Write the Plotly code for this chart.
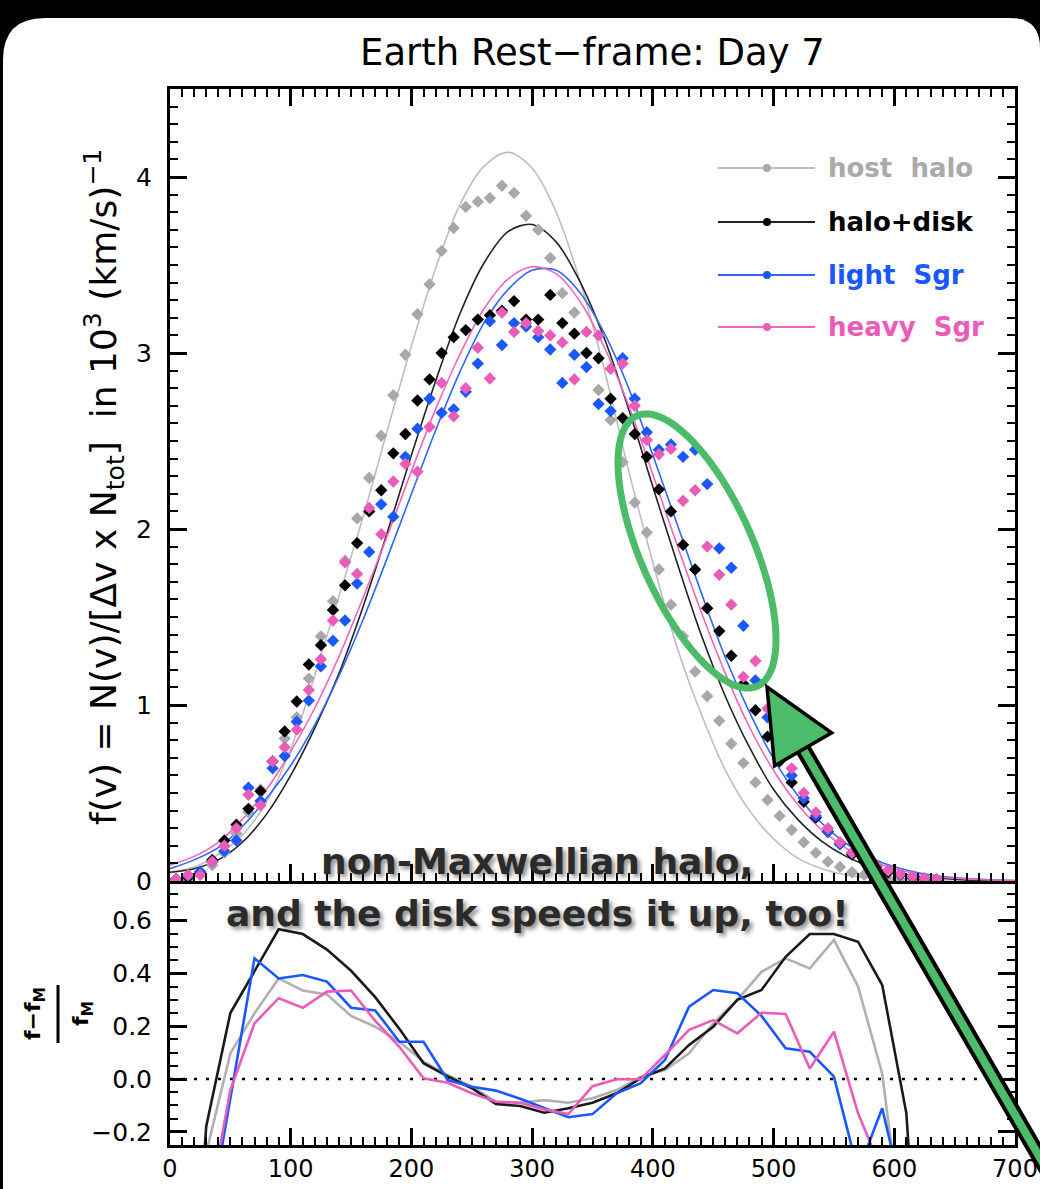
import numpy as np
import plotly.graph_objects as go

W, H = 1040, 1189

# ---------------- data ----------------
series_names = ["host\u00a0\u00a0halo", "halo+disk", "light\u00a0\u00a0Sgr", "heavy\u00a0\u00a0Sgr"]

# binned speed distribution, bin centres every 10 km/s
speed_bins = list(range(5, 700, 10))
host_halo_pts = [0.00, 0.01, 0.04, 0.09, 0.16, 0.27, 0.39, 0.52, 0.68, 0.81,
                 0.93, 1.15, 1.39, 1.59, 1.82, 2.06, 2.29, 2.53, 2.76, 2.99,
                 3.22, 3.39, 3.58, 3.71, 3.83, 3.86, 3.88, 3.95, 3.91, 3.78,
                 3.70, 3.54, 3.34, 3.23, 3.00, 2.79, 2.62, 2.38, 2.15, 1.98,
                 1.77, 1.57, 1.39, 1.19, 1.05, 0.91, 0.78, 0.67, 0.56, 0.46,
                 0.37, 0.29, 0.22, 0.16, 0.11, 0.08, 0.05, 0.035, 0.02, 0.012,
                 0.006, None, None, None, None, None, None, None, None, None]
halo_disk_pts = [0.01, 0.02, 0.05, 0.12, 0.23, 0.32, 0.41, 0.51, 0.68, 0.85,
                 1.02, 1.23, 1.34, 1.54, 1.68, 1.92, 2.10, 2.22, 2.43, 2.54,
                 2.73, 2.85, 3.00, 3.09, 3.13, 3.19, 3.215, 3.24, 3.295, 3.19,
                 3.19, 3.33, 3.17, 3.11, 3.00, 2.97, 2.74, 2.63, 2.54, 2.41,
                 2.225, 2.10, 1.91, 1.77, 1.55, 1.42, 1.28, 1.12, 0.97, 0.82,
                 0.68, 0.56, 0.45, 0.36, 0.28, 0.21, 0.15, 0.11, 0.08, 0.05,
                 0.035, 0.02, 0.012, 0.007, None, None, None, None, None, None]
light_sgr_pts = [0.01, 0.03, 0.053, 0.11, 0.17, 0.23, 0.53, 0.455, 0.64, 0.71,
                 0.905, 1.025, 1.22, 1.365, 1.48, 1.69, 1.87, 2.14, 2.07, 2.41,
                 2.57, 2.74, 2.66, 2.68, 2.78, 2.94, 3.18, 3.045, 3.17, 3.15,
                 3.09, 3.02, 2.83, 2.99, 2.92, 2.71, 2.67, 2.97, 2.74, 2.55,
                 2.45, 2.48, 2.41, 2.45, 2.255, 1.89, 1.78, 1.45, 1.14, 0.93,
                 0.76, 0.60, 0.47, 0.37, 0.28, 0.21, 0.16, 0.12, 0.09, 0.06,
                 0.04, 0.025, 0.015, 0.009, None, None, None, None, None, None]
heavy_sgr_pts = [0.01, 0.034, 0.034, 0.11, 0.20, 0.30, 0.49, 0.43, 0.68, 0.76,
                 0.86, 1.085, 1.26, 1.48, 1.81, 1.745, 2.12, 1.97, 2.27, 2.37,
                 2.325, 2.58, 2.83, 2.64, 2.80, 3.03, 2.855, 3.23, 3.12, 3.17,
                 3.125, 3.10, 3.06, 2.85, 3.12, 3.10, 2.91, 2.94, 2.70, 2.505,
                 2.425, 2.455, 2.16, 2.22, 1.90, 1.74, 1.57, 1.16, 1.25, 0.98,
                 0.80, 0.64, 0.50, 0.39, 0.30, 0.22, 0.16, 0.12, 0.09, 0.06,
                 0.04, 0.025, 0.015, 0.009, None, None, None, None, None, None]

# best-fit Maxwellian curves, read every 20 km/s
fit_speed = list(range(0, 701, 20))
host_halo_fit = [0.05, 0.08, 0.15, 0.26, 0.45, 0.75, 1.17, 1.62, 2.07, 2.56,
                 3.04, 3.48, 3.84, 4.06, 4.14, 4.05, 3.80, 3.40, 2.90, 2.33,
                 1.81, 1.33, 0.95, 0.63, 0.40, 0.24, 0.13, 0.07, 0.035, 0.015,
                 0.006, 0.002, 0.0, 0.0, 0.0, 0.0]
halo_disk_fit = [0.05, 0.07, 0.12, 0.22, 0.38, 0.60, 0.87, 1.18, 1.56, 1.98,
                 2.42, 2.84, 3.22, 3.51, 3.69, 3.73, 3.63, 3.40, 3.08, 2.68,
                 2.24, 1.81, 1.40, 1.05, 0.76, 0.52, 0.35, 0.225, 0.14, 0.083,
                 0.048, 0.026, 0.014, 0.006, 0.002, 0.001]
light_sgr_fit = [0.07, 0.12, 0.19, 0.31, 0.47, 0.656, 0.888, 1.166, 1.486, 1.836,
                 2.20, 2.56, 2.89, 3.17, 3.36, 3.47, 3.47, 3.34, 3.11, 2.80,
                 2.42, 2.03, 1.64, 1.27, 0.96, 0.695, 0.486, 0.328, 0.214, 0.134,
                 0.081, 0.047, 0.026, 0.014, 0.007, 0.003]
heavy_sgr_fit = [0.09, 0.14, 0.22, 0.35, 0.52, 0.735, 0.983, 1.276, 1.61, 1.96,
                 2.33, 2.68, 2.99, 3.25, 3.42, 3.49, 3.45, 3.29, 3.03, 2.70,
                 2.31, 1.91, 1.53, 1.18, 0.875, 0.628, 0.435, 0.29, 0.187, 0.116,
                 0.07, 0.04, 0.022, 0.012, 0.006, 0.003]

# residuals (f - fM)/fM, 20 km/s bins
resid_speed = list(range(10, 631, 20))
host_halo_res = [-1.5, -0.28, 0.097, 0.249, 0.381, 0.335, 0.32, 0.239, 0.198, 0.141,
                 0.066, 0.015, -0.029, -0.086, -0.09, -0.08, -0.09, -0.073, -0.042, 0.009,
                 0.034, 0.097, 0.211, 0.30, 0.406, 0.457, 0.419, 0.527, 0.35, 0.02,
                 -0.7, -1.5]
halo_disk_res = [-1.5, -0.18, 0.25, 0.41, 0.567, 0.549, 0.49, 0.41, 0.31, 0.19,
                 0.06, 0.01, -0.035, -0.095, -0.102, -0.128, -0.111, -0.09, -0.054, 0.003,
                 0.04, 0.129, 0.198, 0.30, 0.337, 0.463, 0.549, 0.549, 0.52, 0.356,
                 -0.13, -1.5]
light_sgr_res = [-1.5, -0.6, -0.074, 0.457, 0.381, 0.394, 0.369, 0.27, 0.26, 0.141,
                 0.141, -0.004, -0.029, -0.044, -0.075, -0.11, -0.145, -0.133, -0.054, -0.016,
                 0.072, 0.274, 0.337, 0.325, 0.239, 0.116, 0.103, 0.009, -0.35, -0.111,
                 -0.5, -1.5]
heavy_sgr_res = [-1.5, -0.54, -0.042, 0.211, 0.306, 0.27, 0.331, 0.335, 0.22, 0.122,
                 0.003, -0.014, -0.054, -0.086, -0.09, -0.115, -0.133, -0.027, -0.001, -0.001,
                 0.091, 0.186, 0.223, 0.173, 0.251, 0.246, 0.04, 0.179, -0.13, -0.35,
                 -1.0, -1.5]

x_ticks = [0, 100, 200, 300, 400, 500, 600, 700]

# ---------------- styling ----------------
pt_colors = ["#a8a8a8", "#000000", "#1a58ff", "#ea5cb8"]
fit_colors = ["#bdbdbd", "#222222", "#2f66ff", "#ee66c0"]
res_colors = ["#b0b0b0", "#1a1a1a", "#1a58ff", "#ea5cb8"]
txt_colors = ["#aaaaaa", "#000000", "#1a58ff", "#ea5cb8"]
green = "#4cbc6a"


def X(px):
    return px / W


def Y(py):
    return 1 - py / H


fig = go.Figure()

pts = [host_halo_pts, halo_disk_pts, light_sgr_pts, heavy_sgr_pts]
fits = [host_halo_fit, halo_disk_fit, light_sgr_fit, heavy_sgr_fit]
ress = [host_halo_res, halo_disk_res, light_sgr_res, heavy_sgr_res]

for name, vals, col in zip(series_names, fits, fit_colors):
    fig.add_trace(go.Scatter(x=fit_speed, y=vals, mode="lines", name=name + " fit",
                             line=dict(color=col, width=1.6, shape="spline", smoothing=0.9),
                             xaxis="x", yaxis="y", hoverinfo="skip"))
for name, vals, col in zip(series_names, pts, pt_colors):
    fig.add_trace(go.Scatter(x=speed_bins, y=vals, mode="markers", name=name,
                             marker=dict(symbol="diamond", size=9.5, color=col, line=dict(width=0)),
                             xaxis="x", yaxis="y"))
for name, vals, col in zip(series_names, ress, res_colors):
    fig.add_trace(go.Scatter(x=resid_speed, y=vals, mode="lines", name=name + " resid",
                             line=dict(color=col, width=2.6),
                             xaxis="x2", yaxis="y2"))

common = dict(showline=True, linecolor="black", linewidth=3, ticks="inside",
              tickcolor="black", tickwidth=2.5, ticklen=17, showgrid=False,
              zeroline=False, automargin=False)
tickfont = dict(family="DejaVu Sans", size=25, color="black")

xdom = [X(170), X(1015)]
fig.update_layout(
    width=W, height=H, autosize=False,
    margin=dict(l=0, r=0, t=0, b=0, pad=0, autoexpand=False),
    paper_bgcolor="black", plot_bgcolor="rgba(0,0,0,0)",
    showlegend=False,
    xaxis=dict(domain=xdom, range=[0, 700], anchor="y", tickmode="array",
               tickvals=x_ticks, showticklabels=False, mirror="ticks", tickfont=tickfont,
               minor=dict(dtick=10, tick0=0, ticklen=8, tickwidth=2, ticks="inside", tickcolor="black"),
               **common),
    yaxis=dict(domain=[Y(881), Y(89)], range=[0, 4.5], anchor="x", dtick=1, tick0=0,
               mirror="ticks", ticklabelstandoff=10, tickfont=tickfont,
               minor=dict(dtick=0.1, tick0=0, ticklen=8, tickwidth=2, ticks="inside", tickcolor="black"),
               **common),
    xaxis2=dict(domain=xdom, range=[0, 700], anchor="y2", tickmode="array",
                tickvals=x_ticks, ticktext=[str(t) for t in x_ticks], mirror=False,
                ticklabelstandoff=0, tickfont=dict(family="DejaVu Sans", size=24, color="black"),
                minor=dict(dtick=10, tick0=0, ticklen=8, tickwidth=2, ticks="inside", tickcolor="black"),
                **common),
    yaxis2=dict(domain=[Y(1145), Y(881)], range=[-0.25, 0.75], anchor="x2", dtick=0.2, tick0=0,
                tickformat=".1f", mirror="ticks", ticklabelstandoff=10, tickfont=tickfont,
                minor=dict(dtick=0.05, tick0=0, ticklen=8, tickwidth=2, ticks="inside", tickcolor="black"),
                **common),
)

shapes = []
# white rounded card on black background
r = 42
card = (f"M {X(3)},{Y(1200)} L {X(3)},{Y(18 + r)} Q {X(3)},{Y(18)} {X(3 + r)},{Y(18)} "
        f"L {X(1040 - 30)},{Y(18)} Q {X(1040)},{Y(18)} {X(1040)},{Y(48)} L {X(1040)},{Y(1200)} Z")
shapes.append(dict(type="path", path=card, xref="paper", yref="paper",
                   fillcolor="white", line=dict(width=0), layer="below"))
# dotted zero line in the residual panel
shapes.append(dict(type="line", xref="x2", yref="y2", x0=0, x1=700, y0=0, y1=0,
                   line=dict(color="black", width=2.5, dash="3px,9px"), layer="below"))

# legend (manual, IDL style)
leg_y = [168, 222, 275, 327]
for lab, col, lcol, yy in zip(series_names, txt_colors, fit_colors, leg_y):
    shapes.append(dict(type="line", xref="paper", yref="paper", x0=X(718), x1=X(815),
                       y0=Y(yy), y1=Y(yy), line=dict(color=lcol, width=2)))
    shapes.append(dict(type="circle", xref="paper", yref="paper", x0=X(763), x1=X(771),
                       y0=Y(yy + 4), y1=Y(yy - 4), fillcolor=col, line=dict(width=0)))

# fraction bar of the residual axis title
shapes.append(dict(type="line", xref="paper", yref="paper", x0=X(58), x1=X(58),
                   y0=Y(985), y1=Y(1043), line=dict(color="black", width=3)))

# green ellipse
cx, cy, a, b = 697, 551, 148, 56
ang = np.deg2rad(24)
ux, uy = np.sin(ang), np.cos(ang)
wx, wy = np.cos(ang), -np.sin(ang)
tt = np.linspace(0, 2 * np.pi, 121)
ex = cx + a * np.cos(tt) * ux + b * np.sin(tt) * wx
ey = cy + a * np.cos(tt) * uy + b * np.sin(tt) * wy
epath = "M " + " L ".join(f"{X(px):.5f},{Y(py):.5f}" for px, py in zip(ex, ey)) + " Z"
shapes.append(dict(type="path", path=epath, xref="paper", yref="paper",
                   line=dict(color=green, width=7), layer="above"))

# green arrow
tip = np.array([767.0, 687.0])
d = np.array([178.0, 307.0]); d /= np.linalg.norm(d)
p = np.array([d[1], -d[0]])
base = tip + 72 * d
c1 = base + 33 * p
c2 = base - 33 * p
tail = base + 520 * d
for col, wd in [("black", 16), (green, 8)]:
    shapes.append(dict(type="line", xref="paper", yref="paper",
                       x0=X(base[0]), y0=Y(base[1]), x1=X(tail[0]), y1=Y(tail[1]),
                       line=dict(color=col, width=wd), layer="above"))
hpath = (f"M {X(tip[0])},{Y(tip[1])} L {X(c1[0])},{Y(c1[1])} "
         f"L {X(c2[0])},{Y(c2[1])} Z")
shapes.append(dict(type="path", path=hpath, xref="paper", yref="paper",
                   fillcolor=green, line=dict(color="black", width=3.5), layer="above"))

annotations = []
annotations.append(dict(text="Earth Rest\u2212frame: Day 7", x=X(592), y=Y(52),
                        xref="paper", yref="paper", showarrow=False,
                        xanchor="center", yanchor="middle",
                        font=dict(family="DejaVu Sans", size=37, color="black")))
annotations.append(dict(text="f(v) = N(v)/[\u0394v x N<sub>tot</sub>]\u00a0\u00a0in 10<sup>3</sup> (km/s)<sup>\u22121</sup>",
                        x=X(104), y=Y(487), xref="paper", yref="paper", showarrow=False,
                        textangle=-90, xanchor="center", yanchor="middle",
                        font=dict(family="DejaVu Sans", size=36, color="black")))
annotations.append(dict(text="<b>f\u2212f<sub>M</sub></b>", x=X(34), y=Y(1014),
                        xref="paper", yref="paper", showarrow=False, textangle=-90,
                        xanchor="center", yanchor="middle",
                        font=dict(family="DejaVu Sans", size=22, color="black")))
annotations.append(dict(text="<b>f<sub>M</sub></b>", x=X(82), y=Y(1014),
                        xref="paper", yref="paper", showarrow=False, textangle=-90,
                        xanchor="center", yanchor="middle",
                        font=dict(family="DejaVu Sans", size=22, color="black")))
for lab, col, yy in zip(series_names, txt_colors, leg_y):
    annotations.append(dict(text=lab, x=X(826), y=Y(yy), xref="paper", yref="paper",
                            showarrow=False, xanchor="left", yanchor="middle",
                            font=dict(family="DejaVu Sans", size=26, color=col, weight="bold")))
shadow = "3px 3px 4px rgba(0,0,0,0.45)"
annotations.append(dict(text="non-Maxwellian halo,", x=X(537), y=Y(861),
                        xref="paper", yref="paper", showarrow=False,
                        xanchor="center", yanchor="middle",
                        font=dict(family="DejaVu Sans", size=36, color="#2b2b2b",
                                  weight="bold", shadow=shadow)))
annotations.append(dict(text="and the disk speeds it up, too!", x=X(537), y=Y(913),
                        xref="paper", yref="paper", showarrow=False,
                        xanchor="center", yanchor="middle",
                        font=dict(family="DejaVu Sans", size=36, color="#2b2b2b",
                                  weight="bold", shadow=shadow)))

fig.update_layout(shapes=shapes, annotations=annotations)
fig.write_html("out.html")
